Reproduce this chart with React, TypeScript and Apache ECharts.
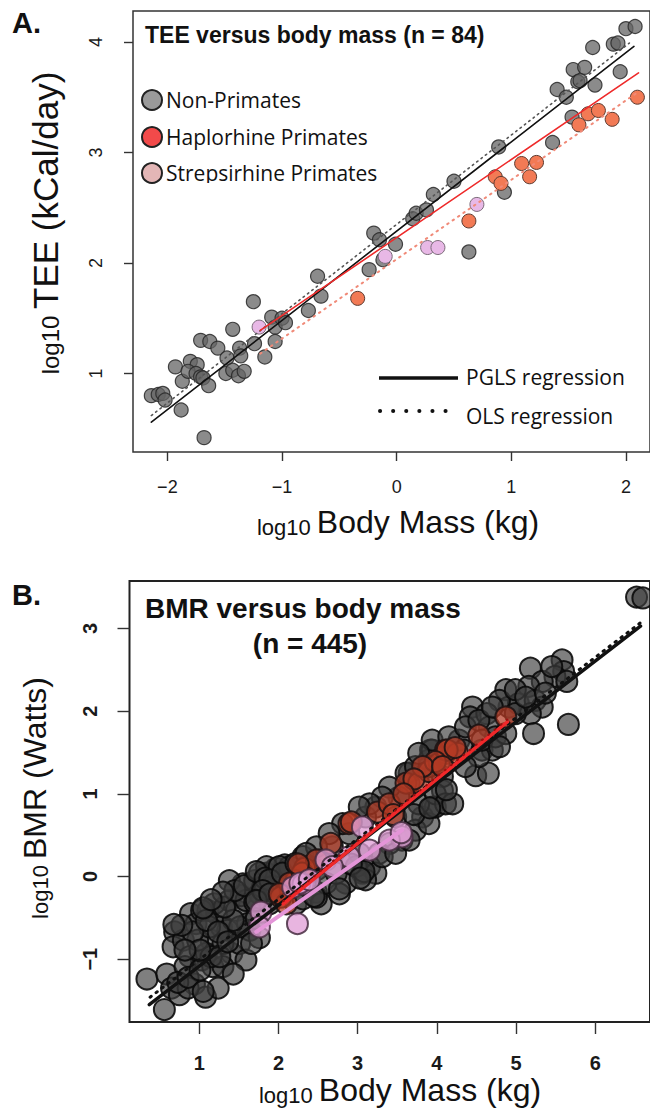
import React, { useEffect, useRef } from "react";
import * as echarts from "echarts";

// ---------- Panel A: TEE versus body mass ----------
const teeTicksX = [-2, -1, 0, 1, 2];
const teeTicksY = [1, 2, 3, 4];

const teeNonPrimates: number[][] = [
  [-2.14, 0.8], [-2.08, 0.81], [-2.04, 0.82], [-2.02, 0.76], [-1.88, 0.67], [-1.93, 1.06], [-1.87, 0.93],
  [-1.8, 1.11], [-1.74, 1.08], [-1.71, 1.3], [-1.63, 1.29], [-1.56, 1.23], [-1.82, 1.02], [-1.75, 1.0],
  [-1.71, 0.97], [-1.69, 0.96], [-1.64, 0.89], [-1.68, 0.42], [-1.43, 1.4], [-1.48, 1.14], [-1.49, 1.0],
  [-1.43, 1.03], [-1.38, 0.98], [-1.33, 1.02], [-1.37, 1.23], [-1.36, 1.16], [-1.25, 1.65], [-1.24, 1.27],
  [-1.15, 1.15], [-1.09, 1.51], [-1.06, 1.42], [-1.0, 1.5], [-0.97, 1.46], [-1.06, 1.29], [-0.77, 1.57],
  [-0.69, 1.88], [-0.66, 1.7], [-0.24, 1.94], [-0.2, 2.27], [-0.15, 2.21], [-0.12, 2.03], [-0.01, 2.17],
  [0.14, 2.4], [0.17, 2.45], [0.26, 2.48], [0.32, 2.62], [0.5, 2.74], [0.63, 2.1], [0.89, 3.05],
  [0.94, 2.64], [1.36, 3.09], [1.4, 3.57], [1.48, 3.5], [1.54, 3.75], [1.64, 3.77], [1.58, 3.64],
  [1.6, 3.65], [1.73, 3.61], [1.71, 3.95], [1.89, 3.98], [1.93, 3.99], [1.95, 3.73], [2.0, 4.12],
  [2.08, 4.14], [1.53, 3.32],
];
const teeHaplorhine: number[][] = [
  [-0.34, 1.68], [0.63, 2.38], [0.86, 2.78], [0.91, 2.72], [1.09, 2.9], [1.22, 2.91], [1.16, 2.78],
  [1.59, 3.25], [1.67, 3.35], [1.76, 3.38], [1.88, 3.3], [2.1, 3.5],
];
const teeStrepsirhine: number[][] = [
  [-1.2, 1.42], [-0.1, 2.06], [0.27, 2.14], [0.36, 2.14], [0.7, 2.53],
];
const teePglsAll = [[-2.14, 0.56], [2.07, 3.96]];
const teeOlsAll = [[-2.14, 0.62], [2.03, 3.99]];
const teePglsPrimates = [[-1.19, 1.39], [2.11, 3.72]];
const teeOlsPrimates = [[-1.19, 1.18], [2.11, 3.55]];

// ---------- Panel B: BMR versus body mass ----------
const bmrTicksX = [1, 2, 3, 4, 5, 6];
const bmrTicksY = [-1, 0, 1, 2, 3];

const bmrNonPrimates: number[][] = [
  [0.34, -1.24], [0.59, -1.18], [0.56, -1.61], [0.69, -0.67], [0.67, -0.85], [0.8, -0.77], [0.89, -0.45],
  [0.88, -0.97], [0.94, -1.3], [1.08, -1.46], [0.96, -0.57], [1.11, -0.41], [1.15, -0.77], [1.03, -1.01],
  [1.22, -0.45], [1.28, -0.61], [1.17, -1.09], [1.38, -0.29], [1.36, -0.65], [1.47, -0.41], [1.53, -0.23],
  [1.41, -0.93], [1.51, -0.81], [1.59, -1.01], [1.3, -1.09], [1.61, -0.57], [1.64, -0.65], [1.55, -0.09],
  [1.7, -0.05], [1.76, -0.21], [1.85, 0.04], [1.89, -0.33], [1.97, 0.1], [2.08, 0.14], [1.09, -0.93],
  [0.82, -1.09], [0.65, -1.35], [0.75, -1.43], [1.24, -1.35], [1.43, -1.18], [0.98, -0.77], [0.86, -1.35],
  [1.3, -0.81], [1.19, -0.33], [1.03, -0.41], [1.38, -0.05], [1.76, 0.04], [2.1, -0.05], [2.22, -0.33],
  [1.76, -0.74], [1.13, -0.61], [0.73, -1.28], [0.86, -1.22], [1.05, -1.39],
  [1.15, -0.97], [1.26, -0.97], [1.01, -1.13], [1.51, -0.61], [1.66, -0.81], [1.43, -0.53], [1.32, -0.37],
  [1.59, -0.29], [1.7, -0.31], [1.8, -0.13], [1.93, -0.11], [1.45, -0.17], [1.3, -0.19], [0.92, -0.67],
  [0.78, -0.59], [1.01, -0.89], [1.09, -0.53], [1.24, -0.67], [1.36, -0.79], [0.82, -0.89], [1.72, -0.51],
  [1.97, -0.21], [2.03, 0.02], [2.14, 0.08], [1.85, 0.12], [2.31, -0.27], [2.48, -0.19], [2.54, -0.33],
  [2.48, 0.08], [0.68, -0.58], [1.05, -0.38], [1.15, -0.28], [1.57, -0.11], [1.72, 0.06], [1.83, -0.02],
  [3.92, 1.53], [4.11, 1.49], [3.65, 1.25], [3.61, 1.0], [3.94, 0.84], [3.82, 0.72], [4.07, 1.04],
  [3.23, 0.84], [3.1, 0.72], [3.48, 0.72], [3.56, 0.44], [3.4, 0.4], [3.27, 0.28], [3.15, 0.12],
  [3.06, 0.04], [2.85, -0.08], [2.77, -0.21], [2.68, 0.36], [2.89, 0.52], [2.52, 0.2], [2.31, 0.24],
  [2.14, 0.12], [2.01, 0.12], [1.89, -0.04], [1.8, -0.17], [2.48, -0.25], [3.23, 0.04], [3.02, 0.28],
  [3.73, 0.56], [3.98, 1.25], [3.65, 1.13],
  [1.72, -0.29], [1.89, -0.21], [2.05, 0.04], [2.22, 0.16], [2.35, 0.12], [2.6, -0.08], [2.73, 0.04],
  [2.98, 0.12], [3.1, -0.04], [3.31, 0.24], [3.48, 0.28], [3.65, 0.44], [3.9, 0.64], [3.98, 0.84],
  [3.77, 0.88], [3.52, 0.96], [3.4, 1.08], [3.31, 0.96], [3.15, 0.88], [3.02, 0.84], [2.81, 0.64],
  [2.64, 0.52], [2.48, 0.36], [2.35, 0.28], [3.61, 1.25], [3.73, 1.33], [3.9, 1.41], [4.07, 1.21],
  [3.98, 1.0], [4.11, 0.88],
  [6.52, 3.38], [6.6, 3.37], [5.58, 2.62], [5.6, 2.48], [5.49, 2.42], [5.64, 2.36], [5.18, 2.52],
  [5.33, 2.36], [5.16, 2.3], [4.87, 2.26], [4.91, 2.05], [5.03, 2.09], [5.24, 2.13], [5.33, 2.05],
  [5.18, 1.97], [5.66, 1.84], [5.22, 1.73], [4.79, 2.13], [4.45, 2.05], [4.42, 1.93], [4.63, 1.97],
  [4.66, 1.81], [4.28, 1.65], [4.34, 1.53], [4.57, 1.53], [4.7, 1.53], [4.74, 1.69], [3.94, 1.53],
  [3.9, 1.33], [4.49, 1.22], [4.65, 1.25], [4.53, 1.45], [4.99, 2.26],
  [3.94, 1.65], [3.77, 1.49], [4.15, 1.69], [4.36, 1.81], [4.53, 1.89], [4.7, 2.05], [4.99, 1.97],
  [5.12, 2.17], [5.37, 2.22], [5.45, 2.54], [4.57, 1.65], [4.87, 1.73], [4.79, 1.57], [4.36, 1.33],
  [4.2, 0.88], [4.12, 1.05], [3.08, 0.06], [2.92, 0.15], [2.77, -0.15], [3.03, -0.02], [2.45, -0.24],
  [3.71, 0.75], [3.91, 0.83],
];
const bmrHaplorhine: number[][] = [
  [2.03, -0.25], [2.1, -0.33], [2.33, 0.1], [2.22, -0.05], [2.89, 0.64], [2.66, 0.4], [3.25, 0.78],
  [3.4, 0.88], [3.61, 1.13], [3.77, 1.13], [3.9, 1.27], [4.03, 1.37], [2.14, -0.08], [2.01, -0.21],
  [2.3, 0.04], [2.48, 0.2], [4.11, 1.53], [4.87, 1.93], [4.53, 1.71], [4.26, 1.49], [4.13, 1.53],
  [3.98, 1.39], [3.82, 1.33], [4.07, 1.33], [2.25, 0.15], [2.92, 0.66], [3.45, 0.75], [3.71, 1.18],
  [4.23, 1.56], [3.58, 1.0],
];
const bmrStrepsirhine: number[][] = [
  [1.78, -0.43], [2.24, -0.57], [1.76, -0.61], [2.18, -0.13], [2.31, -0.09], [3.56, 0.48], [3.4, 0.44],
  [3.06, 0.6], [2.89, 0.24], [3.15, 0.32], [2.6, 0.2], [2.27, -0.08], [2.39, -0.04], [2.68, 0.12],
  [3.55, 0.53],
];
const bmrPglsAll = [[0.37, -1.55], [6.57, 3.03]];
const bmrOlsAll = [[0.38, -1.46], [6.57, 3.07]];
const bmrPglsHaplo = [[2.06, -0.33], [4.89, 1.87]];
const bmrOlsHaplo = [[2.06, -0.3], [4.89, 1.9]];
const bmrPglsStrep = [[1.72, -0.67], [3.56, 0.56]];

const SANS = "'Liberation Sans', Arial, Helvetica, sans-serif";
const OPEN = "'Open Sans', 'Noto Sans', sans-serif";

const minusFmt = (v: number) => (v < 0 ? "\u2212" + Math.abs(v) : String(v));

function lineSeries(data: number[][], idx: number, color: string, width: number, type: any, z = 5) {
  return {
    type: "line",
    xAxisIndex: idx,
    yAxisIndex: idx,
    data,
    symbol: "none",
    showSymbol: false,
    silent: true,
    z,
    lineStyle: { color, width, type, cap: "round" },
  };
}

function richTitle(x: number, y: number, small: string, big: string, rotate: boolean, bigSize = 32, smallSize = 22) {
  return {
    type: "text",
    x,
    y,
    rotation: rotate ? Math.PI / 2 : 0,
    z: 60,
    style: {
      text: `{s|${small} }{b|${big}}`,
      align: "center",
      textAlign: "center",
      verticalAlign: "middle",
      textVerticalAlign: "middle",
      fill: "#111",
      rich: {
        s: { fontSize: smallSize, fontFamily: SANS, lineHeight: Math.round(bigSize * 0.78), verticalAlign: "bottom", fill: "#111" },
        b: { fontSize: bigSize, fontFamily: SANS, lineHeight: bigSize, verticalAlign: "bottom", fill: "#111" },
      },
    },
  };
}

function txt(text: string, x: number, y: number, font: string, size: number, weight: string, align = "left") {
  return {
    type: "text",
    x,
    y,
    z: 60,
    style: {
      text,
      fontSize: size,
      fontFamily: font,
      fontWeight: weight,
      fill: "#111",
      align,
      textAlign: align,
      verticalAlign: "middle",
      textVerticalAlign: "middle",
    },
  };
}

export default function App() {
  const ref = useRef<HTMLDivElement>(null);
  useEffect(() => {
    if (!ref.current) return;
    const chart = echarts.init(ref.current, null, { renderer: "svg" });

    const axisCommon = (ticks: number[], tickLen: number, margin: number, size: number, weight: string, rotate = 0) => ({
      type: "value",
      splitLine: { show: false },
      axisLine: { show: false, onZero: false },
      axisTick: { show: true, length: tickLen, customValues: ticks, lineStyle: { color: "#333", width: 1.4 } },
      axisLabel: {
        customValues: ticks,
        formatter: minusFmt,
        fontSize: size,
        fontWeight: weight,
        fontFamily: SANS,
        color: "#1a1a1a",
        margin,
        rotate,
      },
    });

    const option: any = {
      animation: false,
      backgroundColor: "#fff",
      grid: [
        { left: 133, top: 11, width: 519, height: 441, show: true, borderColor: "#333", borderWidth: 1.5, backgroundColor: "transparent" },
        { left: 129.5, top: 581, width: 522.5, height: 441, show: true, borderColor: "#222", borderWidth: 2, backgroundColor: "transparent" },
      ],
      xAxis: [
        { ...axisCommon(teeTicksX, 9, 26, 18, "normal"), gridIndex: 0, min: -2.3, max: 2.21 },
        { ...axisCommon(bmrTicksX, 12, 31, 20, "bold"), gridIndex: 1, min: 0.12, max: 6.69 },
      ],
      yAxis: [
        { ...axisCommon(teeTicksY, 9, 28, 18, "normal", 90), gridIndex: 0, min: 0.29, max: 4.28 },
        { ...axisCommon(bmrTicksY, 12, 30, 20, "bold", 90), gridIndex: 1, min: -1.76, max: 3.575 },
      ],
      series: [
        {
          type: "scatter", xAxisIndex: 0, yAxisIndex: 0, data: teeNonPrimates, symbolSize: 14, z: 2, silent: true,
          itemStyle: { color: "rgba(100,100,100,0.75)", borderColor: "rgba(40,40,40,0.85)", borderWidth: 1.2, opacity: 1 },
        },
        {
          type: "scatter", xAxisIndex: 0, yAxisIndex: 0, data: teeHaplorhine, symbolSize: 14, z: 2, silent: true,
          itemStyle: { color: "#f27a55", borderColor: "#5a3a30", borderWidth: 1, opacity: 1 },
        },
        {
          type: "scatter", xAxisIndex: 0, yAxisIndex: 0, data: teeStrepsirhine, symbolSize: 14, z: 2, silent: true,
          itemStyle: { color: "#e8b8e6", borderColor: "#7a6a78", borderWidth: 1, opacity: 1 },
        },
        lineSeries(teeOlsAll, 0, "#555", 1.6, [1.5, 4]),
        lineSeries(teePglsAll, 0, "#111", 1.6, "solid"),
        lineSeries(teeOlsPrimates, 0, "#f08a78", 2, [1.5, 5]),
        lineSeries(teePglsPrimates, 0, "#ee2a2a", 1.6, "solid"),
        {
          type: "scatter", xAxisIndex: 1, yAxisIndex: 1, data: bmrNonPrimates, symbolSize: 21, z: 2, silent: true,
          itemStyle: { color: "rgba(60,60,60,0.66)", borderColor: "rgba(10,10,10,0.9)", borderWidth: 2, opacity: 1 },
        },
        {
          type: "scatter", xAxisIndex: 1, yAxisIndex: 1, data: bmrHaplorhine, symbolSize: 21, z: 2, silent: true,
          itemStyle: { color: "rgba(180,58,36,0.72)", borderColor: "rgba(30,20,20,0.9)", borderWidth: 2, opacity: 1 },
        },
        {
          type: "scatter", xAxisIndex: 1, yAxisIndex: 1, data: bmrStrepsirhine, symbolSize: 21, z: 2, silent: true,
          itemStyle: { color: "rgba(225,160,215,0.78)", borderColor: "rgba(70,45,65,0.85)", borderWidth: 2, opacity: 1 },
        },
        lineSeries(bmrOlsAll, 1, "#111", 3, [1.5, 6]),
        lineSeries(bmrPglsAll, 1, "#111", 3.5, "solid"),
        lineSeries(bmrPglsStrep, 1, "#e495d8", 4, "solid"),
        lineSeries(bmrPglsHaplo, 1, "#f0282a", 3.5, "solid"),
        lineSeries(bmrOlsHaplo, 1, "#9a1010", 2, [1, 7], 6),
      ],
      graphic: [
        txt("A.", 12, 23, SANS, 29, "bold"),
        txt("TEE versus body mass (n = 84)", 145, 35, SANS, 23, "bold"),
        { type: "circle", shape: { cx: 152, cy: 100, r: 10 }, style: { fill: "#9a9a9a", stroke: "#222", lineWidth: 2 }, z: 60 },
        { type: "circle", shape: { cx: 152, cy: 137, r: 10 }, style: { fill: "#f24a4a", stroke: "#222", lineWidth: 2 }, z: 60 },
        { type: "circle", shape: { cx: 152, cy: 173, r: 10 }, style: { fill: "#e3b6b6", stroke: "#222", lineWidth: 2 }, z: 60 },
        txt("Non-Primates", 166, 100, OPEN, 21, "normal"),
        txt("Haplorhine Primates", 166, 137, OPEN, 21, "normal"),
        txt("Strepsirhine Primates", 166, 173, OPEN, 21, "normal"),
        { type: "rect", shape: { x: 164, y: 183, width: 228, height: 8 }, style: { fill: "#fff" }, z: 61 },
        { type: "line", shape: { x1: 379, y1: 378, x2: 458, y2: 378 }, style: { stroke: "#111", lineWidth: 3.5 }, z: 60 },
        txt("PGLS regression", 466, 377, OPEN, 21, "normal"),
        {
          type: "line", shape: { x1: 380, y1: 411, x2: 458, y2: 411 },
          style: { stroke: "#111", lineWidth: 4, lineDash: [0.1, 13], lineCap: "round" }, z: 60,
        },
        txt("OLS regression", 466, 416, OPEN, 21, "normal"),
        richTitle(398, 522, "log10", "Body Mass (kg)", false),
        richTitle(45, 223, "log10", "TEE (kCal/day)", true, 35, 24),
        txt("B.", 12, 595, SANS, 29, "bold"),
        txt("BMR versus body mass", 145, 608, SANS, 28, "bold"),
        txt("(n = 445)", 310, 643, SANS, 28, "bold", "center"),
        richTitle(400, 1090, "log10", "Body Mass (kg)", false),
        richTitle(35, 798, "log10", "BMR (Watts)", true),
      ],
    };

    chart.setOption(option);
    return () => chart.dispose();
  }, []);

  return (
    <div
      ref={ref}
      style={{ position: "absolute", left: 0, top: 0, width: 650, height: 1120, background: "#fff" }}
    />
  );
}
